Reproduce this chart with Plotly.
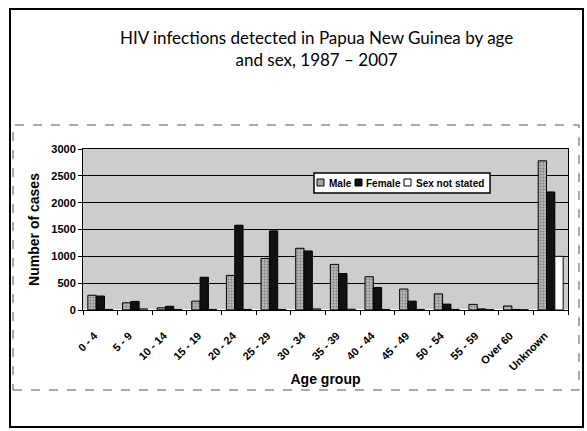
import plotly.graph_objects as go

age_groups = ["0 - 4", "5 - 9", "10 - 14", "15 - 19", "20 - 24", "25 - 29", "30 - 34",
              "35 - 39", "40 - 44", "45 - 49", "50 - 54", "55 - 59", "Over 60", "Unknown"]
male = [275, 135, 40, 165, 645, 960, 1150, 850, 620, 390, 300, 105, 75, 2780]
female = [260, 160, 70, 610, 1580, 1475, 1100, 680, 420, 165, 110, 20, 10, 2200]
not_stated = [10, 20, 10, 10, 10, 10, 20, 15, 10, 10, 10, 5, 5, 1000]
series_names = ["Male", "Female", "Sex not stated"]

W, H = 587, 431
PLOT_L, PLOT_R, PLOT_T, PLOT_B = 83, 568, 149, 310   # page pixels
L, R, T, B = PLOT_L, W - PLOT_R, PLOT_T, H - PLOT_B
PW, PH = PLOT_R - PLOT_L, PLOT_B - PLOT_T


def px(x):
    return (x - PLOT_L) / PW


def py(y):
    return (PLOT_B - y) / PH


fig = go.Figure()
fig.add_trace(go.Bar(
    name=series_names[0], x=age_groups, y=male,
    marker=dict(color="#b0b0b0", line=dict(color="black", width=1),
                pattern=dict(shape=".", fgcolor="#444444", bgcolor="#b8b8b8",
                             size=3, solidity=0.35)),
))
fig.add_trace(go.Bar(
    name=series_names[1], x=age_groups, y=female,
    marker=dict(color="#111111", line=dict(color="black", width=1)),
))
fig.add_trace(go.Bar(
    name=series_names[2], x=age_groups, y=not_stated,
    marker=dict(color="white", line=dict(color="black", width=1)),
))

shapes = [
    # outer frame
    dict(type="rect", xref="paper", yref="paper",
         x0=px(10), x1=px(583), y0=py(427), y1=py(9),
         line=dict(color="black", width=2)),
    # inner chart frame (dashed)
    dict(type="rect", xref="paper", yref="paper",
         x0=px(13), x1=px(579), y0=py(390), y1=py(125),
         line=dict(color="#555555", width=1, dash="dash")),
    # legend box
    dict(type="rect", xref="paper", yref="paper",
         x0=px(314), x1=px(490), y0=py(193), y1=py(173),
         fillcolor="white", line=dict(color="black", width=1.5), layer="above"),
]
legend_keys = [(317, "#a8a8a8"), (355, "#111111"), (404, "white")]
legend_text_x = [327, 364, 414]
annotations = [
    dict(text="HIV infections detected in Papua New Guinea by age<br>and sex, 1987 \u2013 2007",
         xref="paper", yref="paper", x=px(316), y=py(48), xanchor="center", yanchor="middle",
         showarrow=False, font=dict(family="Lato, Open Sans", size=17, color="black")),
]
for (kx, col), tx, name in zip(legend_keys, legend_text_x, series_names):
    shapes.append(dict(type="rect", xref="paper", yref="paper",
                       x0=px(kx), x1=px(kx + 7), y0=py(186), y1=py(179),
                       fillcolor=col, line=dict(color="black", width=1), layer="above"))
    annotations.append(dict(text=name, xref="paper", yref="paper", x=px(tx), y=py(183),
                            xanchor="left", yanchor="middle", showarrow=False,
                            font=dict(family="Liberation Sans, Arial", size=10,
                                      color="black", weight="bold")))

fig.update_layout(
    width=W, height=H,
    margin=dict(l=L, r=R, t=T, b=B),
    paper_bgcolor="white",
    plot_bgcolor="#cdcdcd",
    barmode="group",
    bargap=0.28,
    bargroupgap=0,
    shapes=shapes,
    annotations=annotations,
    showlegend=False,
    font=dict(family="Liberation Sans, Arial", color="black"),
    xaxis=dict(
        tickangle=-45, tickfont=dict(size=11, weight="bold"),
        ticks="outside", tickson="boundaries", ticklen=4, tickcolor="black",
        ticklabelstandoff=14, ticklabelshift=-6,
        showline=True, linecolor="black", linewidth=1, mirror=True,
        title=dict(text="Age group", font=dict(size=14, weight="bold"), standoff=2),
    ),
    yaxis=dict(
        range=[0, 3000], dtick=500, tickfont=dict(size=11, weight="bold"),
        ticks="outside", ticklen=4, tickcolor="black",
        showline=True, linecolor="black", linewidth=1, mirror=True,
        showgrid=True, gridcolor="black", gridwidth=1,
        title=dict(text="Number of cases", font=dict(size=14, weight="bold"), standoff=8),
    ),
)

fig.write_html("out.html", config={"displayModeBar": False},
               post_script="document.body.style.margin='0px';")
